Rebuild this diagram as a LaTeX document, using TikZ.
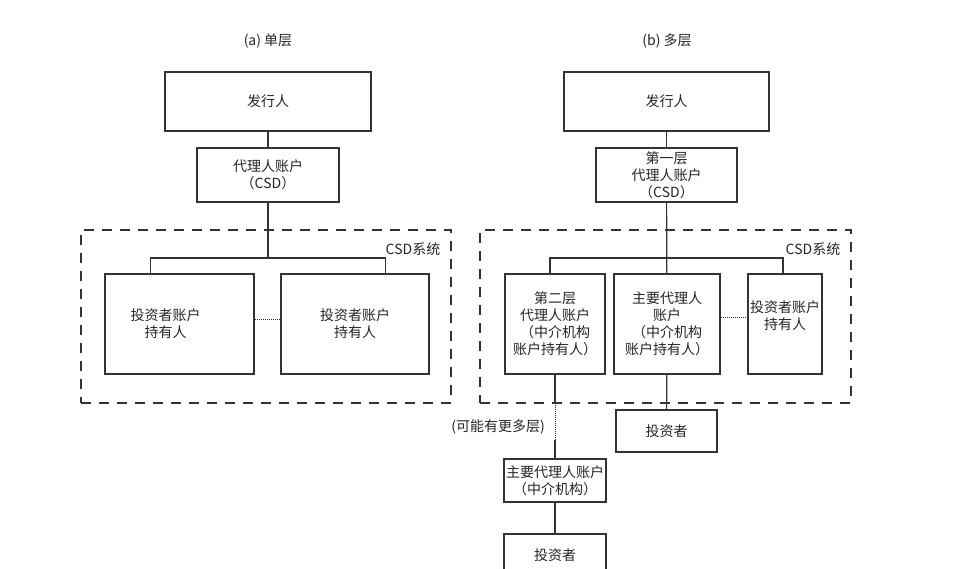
\documentclass[tikz,border=0pt]{standalone}
\usepackage{fontspec}
\setmainfont{Noto Sans CJK SC}
\usetikzlibrary{positioning, calc}
\tikzset{
    box/.style={rectangle, draw=black!80, line width=1.2pt, align=center, inner sep=0pt, text=black!85, font=\fontsize{14}{17}\selectfont},
    title/.style={align=center, inner sep=0pt, text=black!85, font=\fontsize{14}{17}\selectfont},
    link/.style={draw=black!80, line width=1.2pt},
    dots/.style={draw=black!80, line width=1pt, dash pattern=on 1pt off 1pt},
    csd/.style={rectangle, draw=black!80, line width=1.4pt, dash pattern=on 10pt off 8pt, inner sep=0pt}
}

\begin{document}
\begin{tikzpicture}[x=1pt, y=-1pt]
        \useasboundingbox (0,0) rectangle (960,569);
        \clip (0,0) rectangle (960,569);
        \fill[white] (0,0) rectangle (960,569);

        % (a) single tier
        \node (Title_a) [title] at (268, 41) {(a) 单层};
        \node (Issuer_a) [box, minimum width=206pt, minimum height=59pt] at (268, 101.5) {发行人};
        \node (Agent_a) [box, minimum width=142pt, minimum height=54pt] at (268, 175) {代理人账户\\（CSD）};

        \node (CSD_a) [csd, minimum width=370pt, minimum height=173pt] at (266, 316.5) {};
        \node (CSD_a_label) [title] at (413, 249) {CSD系统};

        \node (Holder1_a) [box, minimum width=149pt, minimum height=100pt, label={[title, xshift=-14pt]center:{投资者账户\\持有人}}] at (179.5, 324) {};
        \node (Holder2_a) [box, minimum width=148pt, minimum height=100pt] at (355, 324) {投资者账户\\持有人};

        \coordinate (Split_a) at (268, 258);

        % Connect (a)
        \draw[link] (Issuer_a) -- (Agent_a);
        \draw[link] (Agent_a) -- (Split_a);
        \draw[link] ([xshift=46pt]Holder1_a.north west) |- (Split_a) -| ([xshift=-44pt]Holder2_a.north east);
        \draw[dots] ([yshift=5pt]Holder1_a.east) -- ([yshift=5pt]Holder2_a.west);

        % (b) multi tier
        \node (Title_b) [title] at (667, 41) {(b) 多层};
        \node (Issuer_b) [box, minimum width=205pt, minimum height=59pt] at (666.5, 101.5) {发行人};
        \node (Agent1_b) [box, minimum width=141pt, minimum height=54pt] at (666.5, 175) {第一层\\代理人账户\\（CSD）};

        \node (CSD_b) [csd, minimum width=371pt, minimum height=173pt] at (665.5, 316.5) {};
        \node (CSD_b_label) [title] at (813, 249) {CSD系统};

        \node (Layer2_b) [box, minimum width=100pt, minimum height=100pt] at (555, 324) {第二层\\代理人账户\\（中介机构\\账户持有人）};
        \node (Main_b) [box, minimum width=106pt, minimum height=100pt] at (667, 324) {主要代理人\\账户\\（中介机构\\账户持有人）};
        \node (Holder_b) [box, minimum width=74pt, minimum height=100pt, label={[title, yshift=8pt]center:{投资者账户\\持有人}}] at (785, 324) {};

        \node (Investor_b) [box, minimum width=101pt, minimum height=42pt] at (666.5, 431) {投资者};
        \node (More_label) [title] at (498, 427) {(可能有更多层)};
        \node (Main2_b) [box, minimum width=102pt, minimum height=43pt] at (555, 480.5) {主要代理人账户\\（中介机构）};
        \node (Investor2_b) [box, minimum width=102pt, minimum height=42pt] at (555, 555) {投资者};

        \coordinate (Split_b) at (666.5, 258);
        \coordinate (Gap_top) at (555, 403);
        \coordinate (Gap_bot) at (555, 440);

        % Connect (b)
        \draw[link] (Issuer_b) -- (Agent1_b);
        \draw[link] (Agent1_b) -- (Main_b);
        \draw[link] ([xshift=-5pt]Layer2_b.north) |- (Split_b) -| ([xshift=-2pt]Holder_b.north);
        \draw[dots] ([yshift=7pt]Main_b.east) -- ([yshift=7pt]Holder_b.west);
        \draw[link] (Main_b) -- (Investor_b);
        \draw[link] (Layer2_b) -- (Gap_top);
        \draw[dots] (Gap_top) -- (Gap_bot);
        \draw[link] (Gap_bot) -- (Main2_b);
        \draw[link] (Main2_b) -- (Investor2_b);

    \end{tikzpicture}
\end{document}
